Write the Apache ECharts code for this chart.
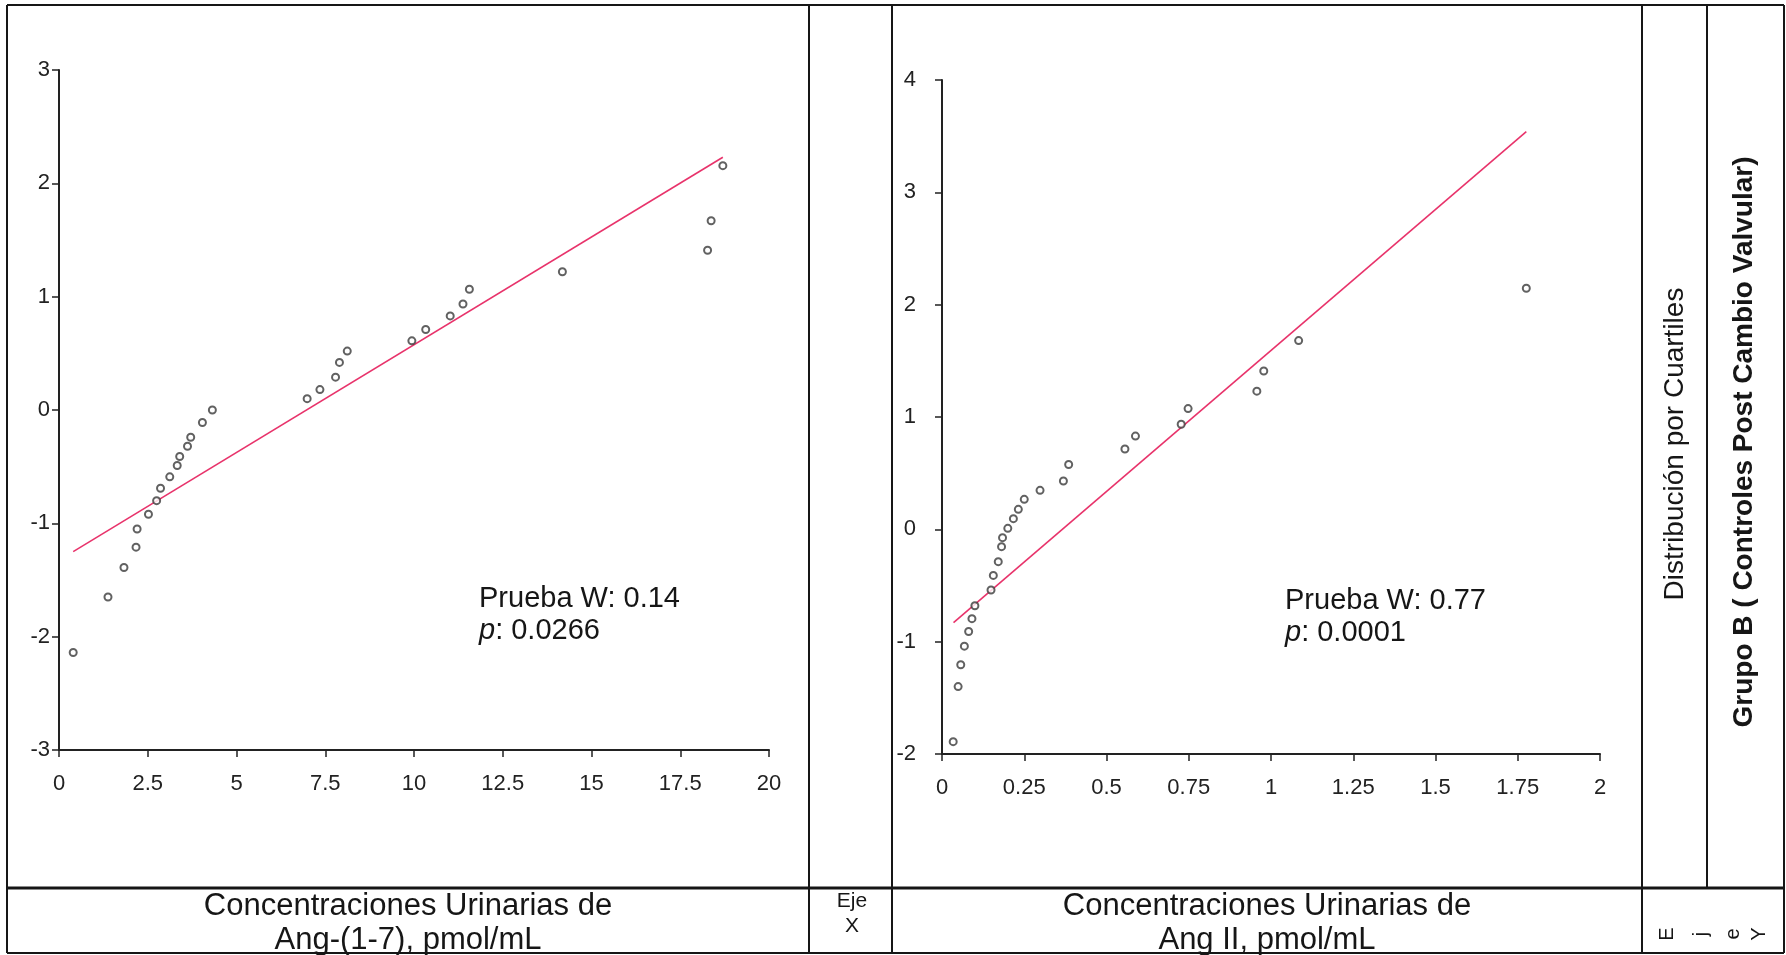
<!DOCTYPE html>
<html>
<head>
<meta charset="utf-8">
<title>Distribución por Cuartiles</title>
<script src="https://cdn.jsdelivr.net/npm/echarts@6.0.0/dist/echarts.min.js"></script>
<style>
  html, body { margin: 0; padding: 0; background: #fff; }
  #main { width: 1786px; height: 955px; }
</style>
</head>
<body>
<div id="main"></div>
<script>
// Ang-(1-7): valores observados (x) y cuantil normal esperado (y)
var ang17X = [0.40, 1.38, 1.83, 2.17, 2.20, 2.52, 2.75, 2.86, 3.12, 3.33, 3.40, 3.62, 3.71, 4.04, 4.32,
              6.99, 7.35, 7.79, 7.90, 8.12, 9.94, 10.33, 11.02, 11.38, 11.56, 14.18, 18.27, 18.37, 18.70];
var ang17Y = [-2.14, -1.65, -1.39, -1.21, -1.05, -0.92, -0.80, -0.69, -0.59, -0.49, -0.41, -0.32, -0.24, -0.11, 0.00,
              0.10, 0.18, 0.29, 0.42, 0.52, 0.61, 0.71, 0.83, 0.935, 1.065, 1.22, 1.41, 1.67, 2.156];
var ang17FitX = [0.40, 18.70];
var ang17FitY = [-1.25, 2.23];

// Ang II
var angIIX = [0.034, 0.049, 0.057, 0.068, 0.081, 0.091, 0.10, 0.149, 0.156, 0.171, 0.181, 0.184, 0.20, 0.217,
              0.232, 0.25, 0.298, 0.369, 0.385, 0.556, 0.588, 0.727, 0.748, 0.957, 0.978, 1.084, 1.776];
var angIIY = [-1.89, -1.40, -1.205, -1.04, -0.91, -0.795, -0.68, -0.54, -0.41, -0.288, -0.154, -0.074, 0.009, 0.095,
              0.178, 0.267, 0.347, 0.43, 0.577, 0.715, 0.83, 0.935, 1.075, 1.23, 1.41, 1.68, 2.146];
var angIIFitX = [0.035, 1.776];
var angIIFitY = [-0.83, 3.54];

var pruebaLeft = ['Prueba W: 0.14', '0.0266'];
var pruebaRight = ['Prueba W: 0.77', '0.0001'];

function pairs(xs, ys) {
  var out = [];
  for (var i = 0; i < xs.length; i++) out.push([xs[i], ys[i]]);
  return out;
}

var FONT = '"Liberation Sans", Arial, sans-serif';
var INK = '#161616';

function xAxisCfg(grid, max, interval) {
  return {
    gridIndex: grid, type: 'value', min: 0, max: max, interval: interval,
    axisLine: { show: true, onZero: false, lineStyle: { color: '#222', width: 2 } },
    axisTick: { show: true, length: 7, lineStyle: { color: '#222', width: 1.5 } },
    axisLabel: { color: '#222', fontSize: 22, fontFamily: FONT, margin: 23 },
    splitLine: { show: false }
  };
}
function yAxisCfg(grid, min, max, margin) {
  return {
    gridIndex: grid, type: 'value', min: min, max: max, interval: 1,
    axisLine: { show: true, onZero: false, lineStyle: { color: '#222', width: 2 } },
    axisTick: { show: true, length: 7, lineStyle: { color: '#222', width: 1.5 } },
    axisLabel: { color: '#222', fontSize: 22, fontFamily: FONT, margin: margin },
    splitLine: { show: false }
  };
}
function fitSeries(idx, xs, ys) {
  return {
    type: 'line', xAxisIndex: idx, yAxisIndex: idx, data: pairs(xs, ys),
    showSymbol: false, symbol: 'none', z: 2,
    lineStyle: { color: '#e8336b', width: 1.6 }
  };
}
function dotSeries(idx, xs, ys) {
  return {
    type: 'scatter', xAxisIndex: idx, yAxisIndex: idx, data: pairs(xs, ys),
    symbol: 'emptyCircle', symbolSize: 7, z: 3,
    itemStyle: { color: '#3a3a3a', borderWidth: 1.4 }
  };
}

// bordes de la tabla
function hline(x1, x2, y, w) {
  return { type: 'line', shape: { x1: x1, y1: y, x2: x2, y2: y }, style: { stroke: INK, lineWidth: w || 2 }, silent: true };
}
function vline(x, y1, y2) {
  return { type: 'line', shape: { x1: x, y1: y1, x2: x, y2: y2 }, style: { stroke: INK, lineWidth: 2 }, silent: true };
}
function label(txt, x, y, size, extra) {
  var st = { text: txt, x: x, y: y, fill: INK, font: size + 'px ' + FONT, align: 'center', verticalAlign: 'middle' };
  for (var k in extra) st[k] = extra[k];
  return { type: 'text', style: st, silent: true };
}
function pruebaText(lines, x, y) {
  return {
    type: 'text', silent: true,
    style: {
      text: lines[0] + '\n{i|p}: ' + lines[1], x: x, y: y, fill: INK,
      font: '29px ' + FONT, lineHeight: 32, align: 'left', verticalAlign: 'middle',
      rich: { i: { fontStyle: 'italic', fontSize: 29, fontFamily: FONT, fill: INK } }
    }
  };
}

var graphics = [
  hline(7, 1784, 5), hline(7, 1784, 953), hline(7, 1784, 888, 3),
  vline(7, 5, 953), vline(1784, 5, 953),
  vline(809, 5, 953), vline(892, 5, 953), vline(1642, 5, 953), vline(1707, 5, 888),
  pruebaText(pruebaLeft, 479, 615),
  pruebaText(pruebaRight, 1285, 617),
  label('Concentraciones Urinarias de', 408, 906, 31),
  label('Ang-(1-7), pmol/mL', 408, 940, 31),
  label('Concentraciones Urinarias de', 1267, 906, 31),
  label('Ang II, pmol/mL', 1267, 940, 31),
  label('Eje', 852, 901, 21),
  label('X', 852, 926, 21),
  { type: 'text', silent: true, x: 1675, y: 444, rotation: Math.PI / 2,
    style: { text: 'Distribución por Cuartiles', x: 0, y: 0, fill: INK, font: '28px ' + FONT, align: 'center', verticalAlign: 'middle' } },
  { type: 'text', silent: true, x: 1744, y: 442, rotation: Math.PI / 2,
    style: { text: 'Grupo B ( Controles Post Cambio Valvular)', x: 0, y: 0, fill: INK, font: 'bold 28px ' + FONT, align: 'center', verticalAlign: 'middle' } }
];
// "Eje Y" con letras giradas
var ejeY = ['E', 'j', 'e', 'Y'];
var ejeYPos = [1667, 1701, 1733, 1759];
for (var i = 0; i < ejeY.length; i++) {
  graphics.push({ type: 'text', silent: true, x: ejeYPos[i], y: 934, rotation: Math.PI / 2,
    style: { text: ejeY[i], x: 0, y: 0, fill: INK, font: '20px ' + FONT, align: 'center', verticalAlign: 'middle' } });
}

var chart = echarts.init(document.getElementById('main'), null, { renderer: 'canvas' });
var option = {
  animation: false,
  backgroundColor: '#fff',
  grid: [
    { left: 59, top: 70, width: 710, height: 680 },
    { left: 942, top: 80, width: 658, height: 674 }
  ],
  xAxis: [xAxisCfg(0, 20, 2.5), xAxisCfg(1, 2, 0.25)],
  yAxis: [yAxisCfg(0, -3, 3, 9), yAxisCfg(1, -2, 4, 26)],
  series: [
    fitSeries(0, ang17FitX, ang17FitY),
    dotSeries(0, ang17X, ang17Y),
    fitSeries(1, angIIFitX, angIIFitY),
    dotSeries(1, angIIX, angIIY)
  ],
  graphic: graphics
};
chart.setOption(option);
</script>
</body>
</html>
